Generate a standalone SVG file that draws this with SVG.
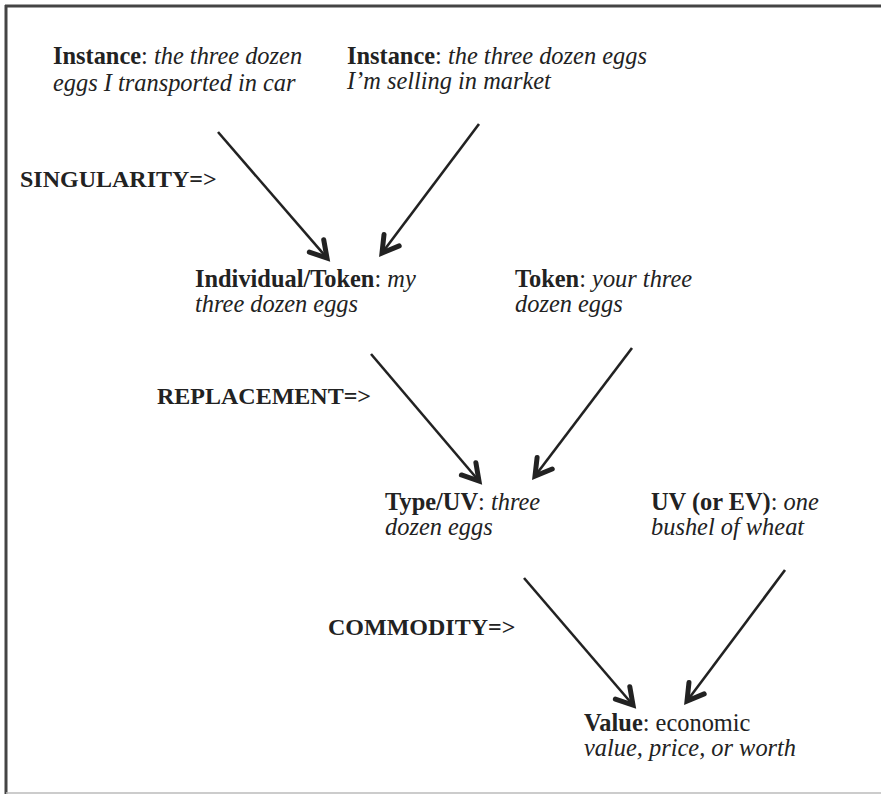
<svg xmlns="http://www.w3.org/2000/svg" width="881" height="794" viewBox="0 0 881 794">
<style>
text{font-family:"Liberation Serif","Times New Roman",serif;font-size:24.4px;fill:#222}
.b{font-weight:bold}
.i{font-style:italic}
.lbl{font-weight:bold;font-size:24px}
.c{stroke:#222;stroke-width:2.6;fill:none;marker-end:url(#ah)}
</style>
<defs>
<marker id="ah" markerUnits="userSpaceOnUse" markerWidth="30" markerHeight="30" refX="21" refY="15" orient="auto">
<path d="M5,5.5 L21,15 L5,24.5" fill="none" stroke="#222" stroke-width="5" stroke-linejoin="miter" stroke-linecap="round"/>
</marker>
</defs>
<rect width="881" height="794" fill="#fff"/>
<g id="frame">
<line x1="5" y1="6" x2="881" y2="6" stroke="#444" stroke-width="3"/>
<line x1="6" y1="5" x2="6" y2="794" stroke="#444" stroke-width="3"/>
<line x1="6" y1="793" x2="881" y2="793" stroke="#bbb" stroke-width="1.5"/>
</g>
<g id="connectors">
<line class="c" x1="218" y1="132" x2="327" y2="258"/>
<line class="c" x1="479" y1="124" x2="382" y2="253"/>
<line class="c" x1="371" y1="354" x2="479" y2="481"/>
<line class="c" x1="632" y1="348" x2="535" y2="476"/>
<line class="c" x1="524" y1="578" x2="633" y2="705"/>
<line class="c" x1="785" y1="570" x2="687" y2="701"/>
</g>
<g id="instance1">
<text x="53" y="64"><tspan class="b">Instance</tspan>: <tspan class="i">the three dozen</tspan></text>
<text x="53" y="91" class="i">eggs I transported in car</text>
</g>
<g id="instance2">
<text x="347" y="64"><tspan class="b">Instance</tspan>: <tspan class="i">the three dozen eggs</tspan></text>
<text x="347" y="89" class="i">I’m selling in market</text>
</g>
<g id="singularity"><text x="20" y="187" class="lbl">SINGULARITY=&gt;</text></g>
<g id="individual">
<text x="195" y="287"><tspan class="b">Individual/Token</tspan>: <tspan class="i">my</tspan></text>
<text x="195" y="312" class="i">three dozen eggs</text>
</g>
<g id="token">
<text x="515" y="287"><tspan class="b">Token</tspan>: <tspan class="i">your three</tspan></text>
<text x="515" y="312" class="i">dozen eggs</text>
</g>
<g id="replacement"><text x="157" y="404" class="lbl">REPLACEMENT=&gt;</text></g>
<g id="type">
<text x="385" y="510"><tspan class="b">Type/UV</tspan>: <tspan class="i">three</tspan></text>
<text x="385" y="535" class="i">dozen eggs</text>
</g>
<g id="uv">
<text x="651" y="510"><tspan class="b">UV (or EV)</tspan>: <tspan class="i">one</tspan></text>
<text x="651" y="535" class="i">bushel of wheat</text>
</g>
<g id="commodity"><text x="328" y="635" class="lbl">COMMODITY=&gt;</text></g>
<g id="value">
<text x="584" y="731"><tspan class="b">Value</tspan>: economic</text>
<text x="584" y="756" class="i">value, price, or worth</text>
</g>
</svg>
